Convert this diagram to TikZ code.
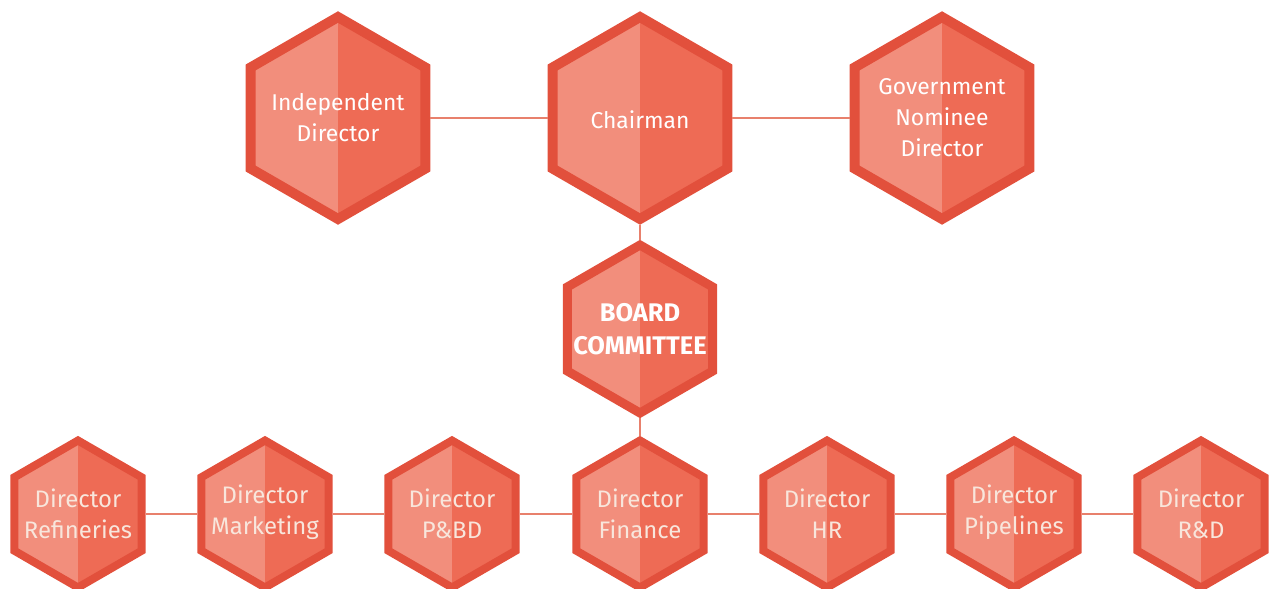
\documentclass[tikz,border=0pt]{standalone}
\usepackage{fontspec}
\setmainfont{Fira Sans}
\usetikzlibrary{shapes.geometric}

\definecolor{hexedge}{HTML}{E2503C}
\definecolor{hexleft}{HTML}{F28E7C}
\definecolor{hexright}{HTML}{EE6B55}
\definecolor{linkred}{HTML}{E8806C}
\definecolor{paletext}{HTML}{F8E6DC}

\tikzset{
  hexa/.style={regular polygon, regular polygon sides=6, shape border rotate=30,
    draw=hexedge, fill=hexright, inner sep=0pt,
    path picture={\fill[hexleft] (path picture bounding box.south west) rectangle (path picture bounding box.north);}},
  bighex/.style={hexa, minimum size=4.04cm, line width=0.2cm},
  midhex/.style={hexa, minimum size=3.36cm, line width=0.18cm},
  smallhex/.style={hexa, minimum size=2.94cm, line width=0.16cm},
  bigtext/.style={align=center, text=white, font=\fontsize{13}{17.6}\selectfont},
  midtext/.style={align=center, text=white, font=\bfseries\fontsize{14.5}{18.8}\selectfont},
  smalltext/.style={align=center, text=paletext, font=\fontsize{13.6}{17.6}\selectfont},
  link/.style={draw=linkred, line width=0.8pt}
}

\begin{document}
\begin{tikzpicture}[x=0.02cm, y=-0.02cm]

    \useasboundingbox (0,0) rectangle (1270,588);

    % board members
    \node[bighex] (indep) at (338,118) {};
    \node[bighex] (chair) at (640,118) {};
    \node[bighex] (govt) at (942,118) {};
    \node[bigtext] (indep-t) at (indep) {Independent\\Director};
    \node[bigtext] (chair-t) at ([yshift=-1pt]chair) {Chairman};
    \node[bigtext] (govt-t) at (govt) {Government\\Nominee\\Director};

    \node[midhex] (board) at (640,329) {};
    \node[midtext] (board-t) at (board) {BOARD\\COMMITTEE};

    % functional directors
    \node[smallhex] (refin) at (78,514) {};
    \node[smallhex] (market) at (265,514) {};
    \node[smallhex] (pbd) at (452,514) {};
    \node[smallhex] (fin) at (640,514) {};
    \node[smallhex] (hr) at (827,514) {};
    \node[smallhex] (pipe) at (1014,514) {};
    \node[smallhex] (rnd) at (1201,514) {};
    \node[smalltext] (refin-t) at (refin) {Director\\Refineries};
    \node[smalltext] (market-t) at ([yshift=1pt]market) {Director\\Marketing};
    \node[smalltext] (pbd-t) at (pbd) {Director\\P\&BD};
    \node[smalltext] (fin-t) at (fin) {Director\\Finance};
    \node[smalltext] (hr-t) at (hr) {Director\\HR};
    \node[smalltext] (pipe-t) at ([yshift=1pt]pipe) {Director\\Pipelines};
    \node[smalltext] (rnd-t) at (rnd) {Director\\R\&D};

    \path[link] (indep) -- (chair) (chair) -- (govt);
    \path[link] (chair) -- (board) (board) -- (fin);
    \path[link] (refin) -- (market) (market) -- (pbd) (pbd) -- (fin)
        (fin) -- (hr) (hr) -- (pipe) (pipe) -- (rnd);

\end{tikzpicture}
\end{document}
